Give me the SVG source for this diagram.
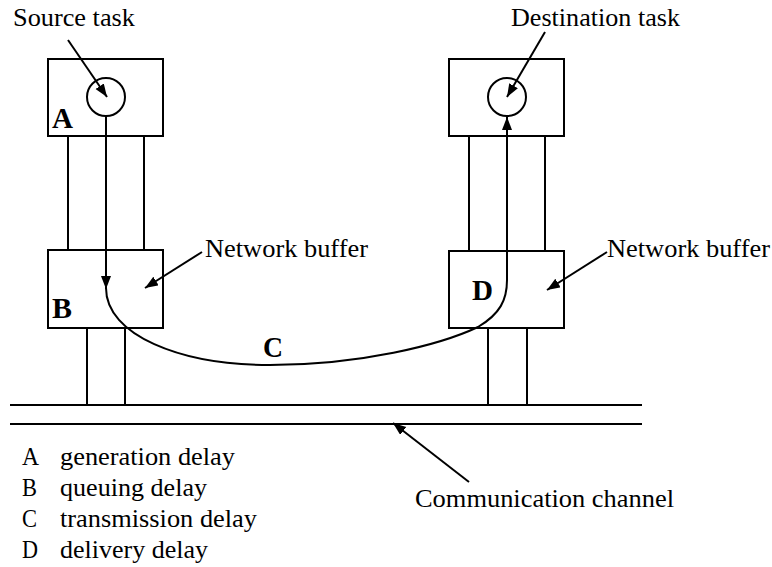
<svg xmlns="http://www.w3.org/2000/svg" width="772" height="567" viewBox="0 0 772 567">
<style>
.s{fill:none;stroke:#000;stroke-width:2}
.t{font-family:"Liberation Serif","Times New Roman",serif;font-size:26px;fill:#000}
.b{font-family:"Liberation Serif","Times New Roman",serif;font-size:30px;font-weight:bold;fill:#000}
</style>
<defs>
<marker id="ah" markerUnits="userSpaceOnUse" markerWidth="14" markerHeight="12" refX="13" refY="5" orient="auto">
<path d="M0,0 L13,5 L0,10 Z" fill="#000"/>
</marker>
</defs>
<rect width="772" height="567" fill="#fff"/>
<g id="source-host">
<rect class="s" x="48" y="59" width="115" height="77"/>
<circle class="s" cx="106" cy="97" r="19"/>
<text class="b" x="52" y="128" textLength="21" lengthAdjust="spacingAndGlyphs">A</text>
<line class="s" x1="68" y1="136" x2="68" y2="250"/>
<line class="s" x1="144" y1="136" x2="144" y2="250"/>
</g>
<g id="source-buffer">
<rect class="s" x="48" y="250" width="115" height="78"/>
<text class="b" x="52" y="318" textLength="20" lengthAdjust="spacingAndGlyphs">B</text>
<line class="s" x1="87" y1="328" x2="87" y2="405"/>
<line class="s" x1="125" y1="328" x2="125" y2="405"/>
</g>
<g id="dest-host">
<rect class="s" x="449" y="59" width="115" height="77"/>
<circle class="s" cx="507" cy="97" r="19"/>
<line class="s" x1="469" y1="136" x2="469" y2="251"/>
<line class="s" x1="545" y1="136" x2="545" y2="251"/>
</g>
<g id="dest-buffer">
<rect class="s" x="449" y="251" width="115" height="77"/>
<text class="b" x="472" y="300" textLength="21" lengthAdjust="spacingAndGlyphs">D</text>
<line class="s" x1="488" y1="328" x2="488" y2="405"/>
<line class="s" x1="527" y1="328" x2="527" y2="405"/>
</g>
<g id="channel">
<line class="s" x1="10" y1="405" x2="642" y2="405"/>
<line class="s" x1="10" y1="424" x2="642" y2="424"/>
</g>
<g id="connectors">
<line class="s" x1="106" y1="116" x2="106" y2="289" marker-end="url(#ah)"/>
<path class="s" d="M106,288 C106,335 180,365 270,365 C360,365 440,345 478,327 C500,314 507,300 507,280 L507,117" marker-end="url(#ah)"/>
<text class="b" x="263" y="357" textLength="20" lengthAdjust="spacingAndGlyphs">C</text>
<line class="s" x1="68" y1="40" x2="107" y2="97" marker-end="url(#ah)"/>
<line class="s" x1="545" y1="32" x2="507" y2="97" marker-end="url(#ah)"/>
<line class="s" x1="202" y1="252" x2="145" y2="288" marker-end="url(#ah)"/>
<line class="s" x1="607" y1="252" x2="547" y2="290" marker-end="url(#ah)"/>
<line class="s" x1="469" y1="482" x2="393" y2="423" marker-end="url(#ah)"/>
</g>
<g id="labels">
<text class="t" x="13" y="26" textLength="122" lengthAdjust="spacingAndGlyphs">Source task</text>
<text class="t" x="511" y="26" textLength="169" lengthAdjust="spacingAndGlyphs">Destination task</text>
<text class="t" x="205" y="257" textLength="163" lengthAdjust="spacingAndGlyphs">Network buffer</text>
<text class="t" x="607" y="257" textLength="163" lengthAdjust="spacingAndGlyphs">Network buffer</text>
<text class="t" x="415" y="507" textLength="259" lengthAdjust="spacingAndGlyphs">Communication channel</text>
</g>
<g id="legend">
<text class="t" x="22" y="465" textLength="17" lengthAdjust="spacingAndGlyphs">A</text>
<text class="t" x="60" y="465" textLength="175" lengthAdjust="spacingAndGlyphs">generation delay</text>
<text class="t" x="22" y="496" textLength="15" lengthAdjust="spacingAndGlyphs">B</text>
<text class="t" x="60" y="496" textLength="147" lengthAdjust="spacingAndGlyphs">queuing delay</text>
<text class="t" x="22" y="527" textLength="15" lengthAdjust="spacingAndGlyphs">C</text>
<text class="t" x="60" y="527" textLength="197" lengthAdjust="spacingAndGlyphs">transmission delay</text>
<text class="t" x="22" y="558" textLength="16" lengthAdjust="spacingAndGlyphs">D</text>
<text class="t" x="60" y="558" textLength="148" lengthAdjust="spacingAndGlyphs">delivery delay</text>
</g>
</svg>
